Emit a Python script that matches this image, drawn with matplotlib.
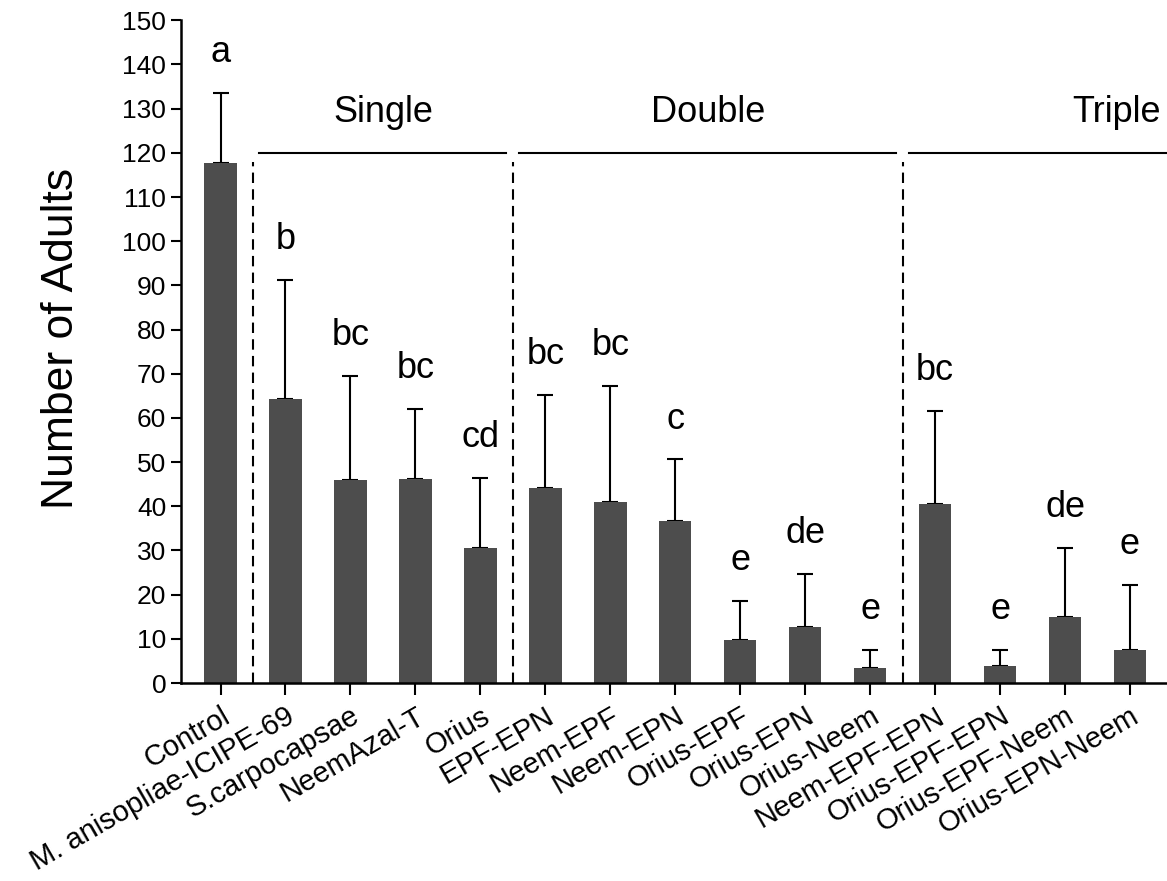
# Number of adults per treatment, bar chart with SE bars and letters
import numpy as np
import matplotlib.pyplot as plt

plt.rcParams["font.family"] = ["Liberation Sans", "DejaVu Sans"]

treatments = ["Control", "M. anisopliae-ICIPE-69", "S.carpocapsae", "NeemAzal-T",
              "Orius", "EPF-EPN", "Neem-EPF", "Neem-EPN", "Orius-EPF", "Orius-EPN",
              "Orius-Neem", "Neem-EPF-EPN", "Orius-EPF-EPN", "Orius-EPF-Neem",
              "Orius-EPN-Neem"]
means = [117.7, 64.3, 45.9, 46.2, 30.5, 44.2, 40.9, 36.7, 9.8, 12.6, 3.4,
         40.5, 3.9, 15.0, 7.5]
err_top = [133.5, 91.2, 69.5, 62.1, 46.5, 65.3, 67.2, 50.6, 18.5, 24.6, 7.5,
           61.5, 7.5, 30.5, 22.1]
letters = ["a", "b", "bc", "bc", "cd", "bc", "bc", "c", "e", "de", "e",
           "bc", "e", "de", "e"]

groups = ["Single", "Double", "Triple"]
group_centers = [2.5, 7.5, 13.8]
group_lines = [(0.6, 4.4), (4.6, 10.4), (10.6, 15.0)]
dividers = [0.5, 4.5, 10.5]

x = np.arange(len(treatments))
means = np.array(means)
err = np.array(err_top) - means

fig = plt.figure(figsize=(11.67, 8.81), dpi=100)
ax = fig.add_axes([0.155, 0.2247, 0.845, 0.7523])

ax.bar(x, means, width=0.5, color="#4d4d4d", zorder=2)
# error bar drawn behind the bar so only the upper part shows
ax.errorbar(x, means, yerr=[np.zeros_like(err), err], fmt="none",
            ecolor="black", elinewidth=1.5, capsize=6, capthick=1.5, zorder=1)

for xi, top, lab in zip(x, err_top, letters):
    ax.text(xi, top + 7, lab, ha="center", va="baseline", fontsize=26)

for d in dividers:
    ax.plot([d, d], [0, 118], color="black", lw=1.5, ls=(0, (5, 3)))

for name, c, (a, b) in zip(groups, group_centers, group_lines):
    ax.plot([a, b], [120, 120], color="black", lw=1.5, clip_on=False)
    ax.text(c, 127, name, ha="center", va="baseline", fontsize=26)

ax.set_xlim(-0.61, 14.57)
ax.set_ylim(0, 150)
ax.set_yticks(np.arange(0, 151, 10))
ax.set_xticks(x)
ax.set_xticklabels(treatments, rotation=30, ha="right", va="top",
                   rotation_mode="anchor", fontsize=21)
ax.tick_params(axis="y", labelsize=19, length=7, width=1.5, direction="out")
ax.tick_params(axis="x", length=8.5, width=1.5, direction="out", pad=5)
ax.spines["top"].set_visible(False)
ax.spines["right"].set_visible(False)
ax.spines["left"].set_linewidth(1.8)
ax.spines["bottom"].set_linewidth(1.8)
ax.set_ylabel("Number of Adults", fontsize=32)
ax.yaxis.set_label_coords(-0.1, 0.52)

fig.savefig("out.png", dpi=100)
